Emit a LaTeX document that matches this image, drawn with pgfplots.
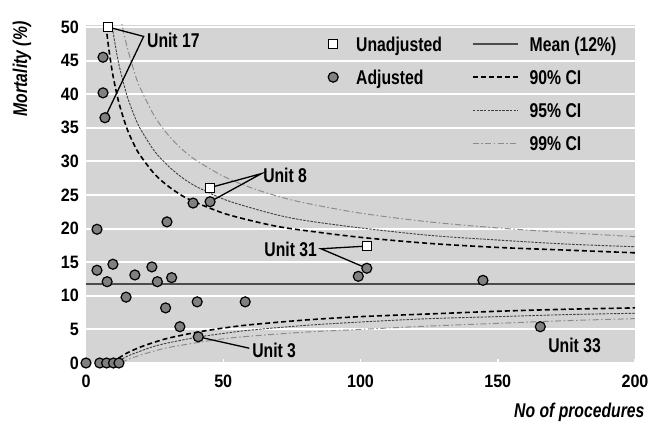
\documentclass[border=0pt]{standalone}
\usepackage{fontspec}
\setmainfont{Liberation Sans}[FakeStretch=0.79]
\newfontfamily\tickfont{Liberation Sans}[FakeStretch=0.9]
\usepackage{pgfplots}
\pgfplotsset{compat=1.18}
\definecolor{bg}{RGB}{212,212,212}
\newcommand\lab{\fontsize{20}{24}\selectfont\bfseries}
\tikzset{
 l90/.style={black, line width=1.6bp, dash pattern=on 5bp off 3bp},
 l95/.style={black!75, line width=0.9bp, dash pattern=on 2.5bp off 1.2bp},
 l99/.style={black!45, line width=1bp, dash pattern=on 6bp off 2.5bp on 1.5bp off 2.5bp},
 lmean/.style={black!70, line width=1.8bp},
 annot/.style={black, line width=1.3bp},
 ulab/.style={font=\lab, inner sep=0pt},
}
\pgfplotsset{
 madj/.style={only marks, mark=*, mark size=5bp, mark options={fill=black!50, draw=black, line width=1.2bp, solid}},
 munadj/.style={only marks, mark=square*, mark size=4.5bp, mark options={fill=white, draw=black, line width=1.2bp, solid}},
 linleg/.style={legend image code/.code={\draw[##1] (0bp,0bp) -- (45bp,0bp);}},
 markleg/.style={legend image code/.code={\path[draw=none,fill=none] (0bp,0bp) -- (45bp,0bp); \path[##1,draw=none] plot[only marks] coordinates {(33bp,0bp)};}},
}
\begin{document}
\begin{tikzpicture}
\begin{axis}[
 at={(0,0)}, anchor=south west,
 scale only axis, width=549bp, height=338bp,
 xmin=0, xmax=200, ymin=0, ymax=50.3,
 axis background/.style={fill=bg},
 axis line style={draw=none},
 ymajorgrids, grid style={white, line width=2bp},
 xtick={0,50,100,150,200}, ytick={0,5,...,50},
 xtick pos=bottom, ytick pos=left,
 xtick style={draw=white, line width=1.5bp}, ytick style={draw=none},
 major tick length=4bp,
 /pgf/number format/assume math mode=true,
 ticklabel style={font=\tickfont\fontsize{18}{20}\selectfont\bfseries, inner sep=0pt},
 xticklabel style={yshift=-12bp},
 yticklabel style={xshift=-7bp},
 clip mode=individual,
 xlabel={No of procedures}, ylabel={Mortality (\%)},
 every axis x label/.style={at={(axis description cs:1.0237,-0.1627)}, anchor=base east, font=\lab\itshape},
 every axis y label/.style={at={(axis description cs:-0.1166,0.87)}, rotate=90, anchor=center, font=\lab\itshape},
 legend columns=2,
 legend style={at={(axis description cs:0.3898,0.9675)}, anchor=north west, draw=none, fill=none, inner sep=0pt, font=\lab,
   row sep=17bp, nodes={inner sep=0pt, text height=15bp, text depth=1bp}, cells={anchor=west},
   /tikz/every odd column/.append style={column sep=11bp},
   /tikz/every even column/.append style={column sep=30bp}},
]
% legend
\addlegendimage{munadj, markleg}
\addlegendentry{Unadjusted}
\addlegendimage{lmean, linleg}
\addlegendentry{Mean (12\%)}
\addlegendimage{madj, markleg}
\addlegendentry{Adjusted}
\addlegendimage{l90, linleg}
\addlegendentry{90\% CI}
\addlegendimage{empty legend}
\addlegendentry{}
\addlegendimage{l95, linleg}
\addlegendentry{95\% CI}
\addlegendimage{empty legend}
\addlegendentry{}
\addlegendimage{l99, linleg}
\addlegendentry{99\% CI}

% mean
\addplot[forget plot, lmean] coordinates {(0,11.8) (200,11.8)};
% 99% limits
\addplot[forget plot, l99, smooth] coordinates {(11,55.4) (12,52.8) (13,50.6) (15,47.0) (18,42.8) (20,40.7) (25,36.7) (30,33.9) (35,31.8) (40,30.2) (50,27.8) (60,26.1) (70,24.8) (80,23.8) (100,22.3) (125,21.0) (150,20.1) (175,19.4) (200,18.8)};
\addplot[forget plot, l99, smooth] coordinates {(13,0) (15,0.5) (20,1.2) (25,1.8) (30,2.3) (40,3.0) (50,3.6) (60,4.0) (80,4.6) (100,5.0) (125,5.5) (150,5.9) (175,6.3) (200,6.6)};
% 95% limits
\addplot[forget plot, l95, smooth] coordinates {(8,55.4) (9,51.8) (10,48.9) (12,44.4) (15,39.7) (18,36.4) (20,34.7) (25,31.5) (30,29.3) (35,27.6) (40,26.3) (50,24.4) (60,23.1) (70,22.0) (80,21.2) (100,20.1) (125,19.0) (150,18.3) (175,17.7) (200,17.3)};
\addplot[forget plot, l95, smooth] coordinates {(11,0) (12,0.3) (15,1.0) (20,1.8) (25,2.5) (30,3.0) (40,3.8) (50,4.4) (60,4.9) (80,5.6) (100,6.1) (125,6.6) (150,6.9) (175,7.2) (200,7.4)};
% 90% limits
\addplot[forget plot, l90, smooth] coordinates {(6,56.1) (7,51.4) (8,47.7) (9,44.8) (10,42.4) (12,38.7) (15,34.8) (18,32.1) (20,30.75) (25,28.1) (30,26.3) (35,24.9) (40,23.9) (50,22.3) (60,21.2) (70,20.3) (80,19.7) (100,18.7) (125,17.8) (150,17.2) (175,16.8) (200,16.4)};
\addplot[forget plot, l90, smooth] coordinates {(9.5,0) (10,0.2) (12,0.75) (15,1.5) (20,2.4) (25,3.1) (30,3.7) (40,4.55) (50,5.2) (60,5.7) (80,6.4) (100,6.9) (125,7.3) (150,7.7) (175,8.0) (200,8.2)};

% annotations
\draw[annot] (axis cs:8,50) -- (axis cs:21,48.6) -- (axis cs:6.9,36.5);
\node[ulab, anchor=west] at (axis cs:22.2,48.07) {Unit 17};
\draw[annot] (axis cs:45.2,26.1) -- (axis cs:64,28.2) -- (axis cs:45.2,24.0);
\node[ulab, anchor=west] at (axis cs:64.5,27.9) {Unit 8};
\draw[annot] (axis cs:102.3,17.4) -- (axis cs:85.6,17.0) -- (axis cs:102.3,14.1);
\node[ulab, anchor=east] at (axis cs:84.2,16.96) {Unit 31};
\draw[annot] (axis cs:40.9,3.9) -- (axis cs:59.5,2.2);
\node[ulab, anchor=west] at (axis cs:60.5,1.93) {Unit 3};
\node[ulab, anchor=center] at (axis cs:178,2.68) {Unit 33};

% adjusted
\addplot[forget plot, madj] coordinates {
(6.2,45.5) (6.2,40.2) (6.9,36.5) (4,19.9) (29.5,21.0) (4,13.8) (9.8,14.7) (7.7,12.1)
(17.8,13.1) (24,14.3) (26,12.1) (31.2,12.7) (14.6,9.8) (29,8.2) (40.5,9.1) (58,9.1)
(34.2,5.4) (40.9,3.9) (39,23.8) (45.2,24.0) (99.2,12.9) (102.3,14.1) (144.6,12.3) (165.5,5.4)
(0,0) (5,0) (7.5,0) (10,0) (12,0)};
% unadjusted
\addplot[forget plot, munadj] coordinates {(8,50) (45.2,26.1) (102.3,17.4)};
\end{axis}
\pgfresetboundingbox
\path[use as bounding box] (-86bp,-61bp) rectangle (565bp,363bp);
\end{tikzpicture}
\end{document}
